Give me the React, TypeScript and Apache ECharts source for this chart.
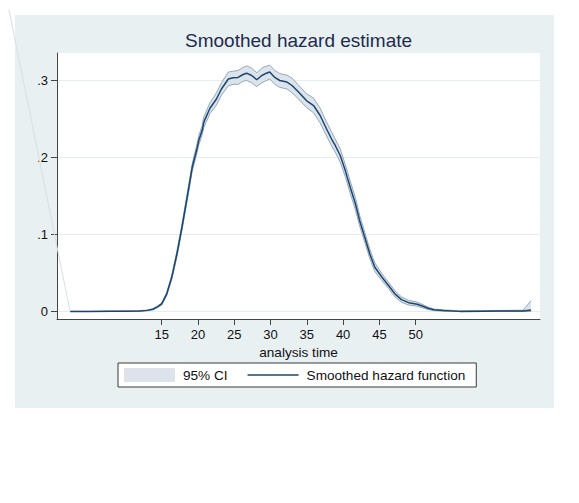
import React, { useEffect, useRef } from "react";
import * as echarts from "echarts";

const FONT = '"Liberation Sans", Arial, Helvetica, sans-serif';

// analysis time
const time = [
  2.4, 5.1, 8.06, 10.04, 12.02, 13, 13.8, 14.4, 15.0, 15.7, 16.4, 17.1, 17.8, 18.5, 19.2, 19.9,
  20.1, 20.6, 20.8, 21.65, 22.54, 23.23, 24.18, 24.82, 25.52, 26.21, 26.71, 27.4, 28.1, 28.79,
  29.24, 29.88, 30.58, 31.27, 32.26, 32.96, 33.85, 34.94, 35.93, 36.83, 37.72, 38.41, 38.91,
  39.6, 40.3, 40.99, 41.69, 42.28, 42.98, 43.67, 44.37, 45.36, 46.25, 47.14, 48.04, 49.03,
  50.22, 51.0, 51.7, 52.5, 53.8, 56.07, 59.25, 61.63, 64.8, 65.9,
];
// smoothed hazard function
const hazard = [
  0, 0, 0.0003, 0.0004, 0.0008, 0.0015, 0.003, 0.006, 0.01, 0.023, 0.045, 0.075, 0.11, 0.148,
  0.187, 0.213, 0.222, 0.236, 0.246, 0.264, 0.276, 0.289, 0.302, 0.3035, 0.304, 0.3078, 0.3095,
  0.3065, 0.301, 0.3065, 0.3087, 0.311, 0.304, 0.3, 0.298, 0.2935, 0.285, 0.274, 0.2675, 0.2545,
  0.237, 0.224, 0.2156, 0.2026, 0.183, 0.161, 0.14, 0.118, 0.0965, 0.075, 0.0575, 0.0445, 0.0338,
  0.023, 0.0155, 0.0115, 0.0095, 0.0068, 0.0042, 0.0022, 0.0013, 0.0002, 0.0005, 0.0006, 0.0007,
  0.002,
];
// 95% CI lower bound
const ciLower = [
  0, 0, 0.0001, 0.0002, 0.0005, 0.0011, 0.0024, 0.005, 0.0085, 0.021, 0.042, 0.071, 0.106,
  0.143, 0.182, 0.207, 0.216, 0.23, 0.239, 0.257, 0.268, 0.281, 0.293, 0.295, 0.295, 0.299,
  0.3, 0.297, 0.292, 0.297, 0.299, 0.302, 0.295, 0.291, 0.289, 0.284, 0.276, 0.265, 0.258,
  0.245, 0.228, 0.215, 0.207, 0.194, 0.175, 0.153, 0.132, 0.111, 0.09, 0.069, 0.052, 0.04,
  0.03, 0.019, 0.012, 0.0085, 0.0068, 0.0047, 0.0025, 0.0012, 0.0005, 0, 0.0001, 0.0001, 0, 0,
];
// 95% CI upper bound
const ciUpper = [
  0.0003, 0.0003, 0.0006, 0.0007, 0.0012, 0.0019, 0.0037, 0.007, 0.0115, 0.025, 0.048, 0.079,
  0.114, 0.153, 0.192, 0.219, 0.228, 0.242, 0.253, 0.271, 0.284, 0.297, 0.311, 0.312, 0.313,
  0.317, 0.319, 0.316, 0.31, 0.316, 0.318, 0.32, 0.313, 0.309, 0.307, 0.303, 0.294, 0.283,
  0.277, 0.264, 0.246, 0.233, 0.224, 0.211, 0.191, 0.169, 0.148, 0.125, 0.103, 0.081, 0.063,
  0.049, 0.038, 0.027, 0.019, 0.0145, 0.0122, 0.0089, 0.0059, 0.0032, 0.0021, 0.001, 0.0012,
  0.0014, 0.0018, 0.014,
];

const xTicks = [15, 20, 25, 30, 35, 40, 45, 50];
const yTicks = [0, 0.1, 0.2, 0.3];
const yLabels = ["0", ".1", ".2", ".3"];

export default function App() {
  const ref = useRef<HTMLDivElement>(null);

  useEffect(() => {
    if (!ref.current) return;
    const chart = echarts.init(ref.current, undefined, { renderer: "svg" });

    const lowerData = time.map((t, i) => [t, ciLower[i]]);
    const upperData = time.map((t, i) => [t, ciUpper[i]]);
    const bandData = time.map((t, i) => [t, ciLower[i], ciUpper[i]]);
    const hazData = time.map((t, i) => [t, hazard[i]]);

    const outline = "#94a7bc";
    const fill = "#dde3ea";
    const navy = "#1a476f";

    chart.setOption({
      animation: false,
      backgroundColor: "#ffffff",
      textStyle: { fontFamily: FONT },
      title: {
        text: "Smoothed hazard estimate",
        left: 185,
        top: 31,
        padding: 0,
        textStyle: { fontFamily: FONT, fontSize: 19, fontWeight: "normal", color: "#1e2b4f" },
      },
      graphic: [
        {
          type: "rect",
          z: -10,
          shape: { x: 15, y: 15, width: 539, height: 393 },
          style: { fill: "#e9f0f2" },
        },
        {
          type: "line",
          z: 10,
          shape: { x1: 9, y1: 10, x2: 70, y2: 311 },
          style: { stroke: "#d8dee3", lineWidth: 1 },
        },
      ],
      legend: {
        left: 118,
        top: 363,
        orient: "horizontal",
        itemWidth: 51,
        itemHeight: 14,
        itemGap: 20,
        padding: [5, 11, 5, 6],
        backgroundColor: "#ffffff",
        borderColor: "#3a3a3a",
        borderWidth: 1,
        borderRadius: 0,
        selectedMode: false,
        textStyle: { fontFamily: FONT, fontSize: 13.6, color: "#111", padding: [0, 0, 0, 3] },
        data: [
          { name: "95% CI", icon: "rect", itemStyle: { color: fill, borderWidth: 0 } },
          {
            name: "Smoothed hazard function",
            icon: "path://M0 0H51V1.5H0Z",
            itemStyle: { color: navy, borderWidth: 0 },
          },
        ],
      },
      grid: {
        left: 57,
        top: 53,
        width: 483,
        height: 266,
        show: true,
        backgroundColor: "#ffffff",
        borderWidth: 0,
        containLabel: false,
      },
      xAxis: {
        type: "value",
        min: 0.57,
        max: 67.13,
        z: 3,
        name: "analysis time",
        nameLocation: "middle",
        nameGap: 23,
        nameTextStyle: { fontFamily: FONT, fontSize: 13.6, color: "#111" },
        axisLine: { show: true, onZero: false, lineStyle: { color: "#444", width: 1 } },
        axisTick: { show: true, length: 6, customValues: xTicks, lineStyle: { color: "#444" } },
        axisLabel: {
          customValues: xTicks,
          margin: 9,
          fontFamily: FONT,
          fontSize: 13,
          color: "#111",
        },
        splitLine: { show: false },
      },
      yAxis: {
        type: "value",
        min: -0.0097,
        max: 0.3357,
        z: 3,
        axisLine: { show: true, onZero: false, lineStyle: { color: "#444", width: 1 } },
        axisTick: { show: true, length: 6, customValues: yTicks, lineStyle: { color: "#444" } },
        axisLabel: {
          customValues: yTicks,
          margin: 9,
          fontFamily: FONT,
          fontSize: 13,
          color: "#111",
          formatter: (v: number) => {
            const i = yTicks.findIndex((t) => Math.abs(t - v) < 1e-9);
            return i >= 0 ? yLabels[i] : "";
          },
        },
        splitLine: { show: true, lineStyle: { color: "#e5edf0", width: 1 } },
      },
      series: [
        {
          name: "95% CI",
          type: "custom",
          data: bandData,
          silent: true,
          color: fill,
          clip: true,
          z: 3,
          encode: { x: 0, y: [1, 2] },
          renderItem: (params: any, api: any) => {
            if (params.dataIndex !== 0) return null;
            const top = upperData.map((d) => api.coord(d));
            const bottom = lowerData.map((d) => api.coord(d)).reverse();
            return {
              type: "polygon",
              shape: { points: top.concat(bottom) },
              style: { fill: fill, stroke: "none" },
            };
          },
        },
        {
          name: "upperOutline",
          type: "line",
          data: upperData,
          symbol: "none",
          silent: true,
          lineStyle: { color: outline, width: 1 },
          z: 4,
        },
        {
          name: "lowerOutline",
          type: "line",
          data: lowerData,
          symbol: "none",
          silent: true,
          lineStyle: { color: outline, width: 1 },
          z: 4,
        },
        {
          name: "Smoothed hazard function",
          type: "line",
          data: hazData,
          symbol: "none",
          color: navy,
          lineStyle: { color: navy, width: 1.5 },
          z: 5,
        },
      ],
    });

    return () => chart.dispose();
  }, []);

  return (
    <div
      ref={ref}
      style={{ position: "absolute", left: 0, top: 0, width: 579, height: 503 }}
    />
  );
}
